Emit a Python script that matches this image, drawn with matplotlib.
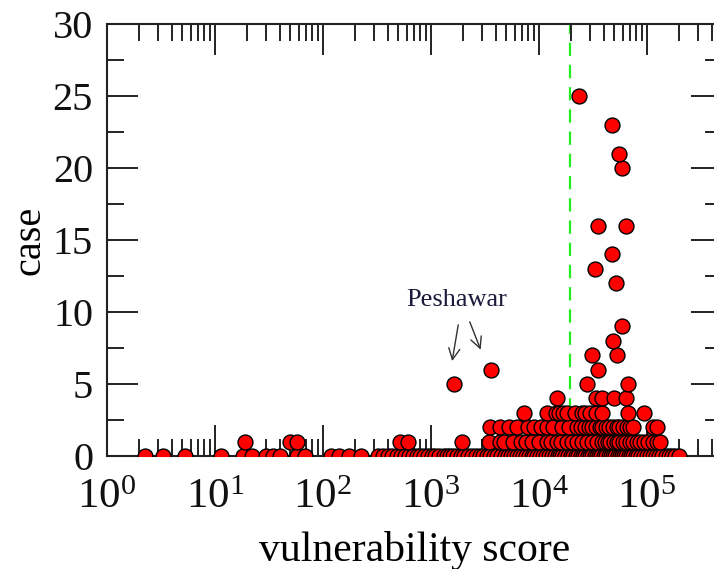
import numpy as np
import matplotlib
matplotlib.use("Agg")
import matplotlib.pyplot as plt
from matplotlib.ticker import LogLocator, MultipleLocator, NullFormatter

plt.rcParams['font.family'] = ['Liberation Serif', 'DejaVu Serif']
plt.rcParams['mathtext.fontset'] = 'custom'
plt.rcParams['mathtext.rm'] = 'Liberation Serif'
plt.rcParams['mathtext.it'] = 'Liberation Serif:italic'

# vulnerability scores grouped by number of cases
scores_case0 = [2.25, 3.3, 5.3, 11.4, 18.2, 22, 30, 34.4, 40, 57.4, 68, 119, 141, 174,
                225, 322, 360, 400, 440, 484, 530, 575, 630, 680, 740, 800, 870, 950,
                1030, 1100, 1200, 1330, 1420, 1500, 1620, 1750, 1900, 2050, 2200, 2400,
                2600, 2850, 3050, 3300, 3550, 3850, 4150, 4500, 4850, 5200, 5550, 5900,
                6300, 6700, 7100, 7600, 8100, 8600, 9100, 9700, 10300, 11000, 11700,
                12500, 13300, 14200, 15000, 15800, 16600, 17500, 18600, 19800, 20800,
                22000, 23200, 24500, 25700, 27000, 28500, 30000, 31500, 33000, 34700,
                36500, 38200, 40000, 42200, 44500, 46700, 49000, 51500, 54000, 56500,
                59000, 62000, 65000, 68500, 72000, 75500, 79000, 83500, 88000, 94000,
                100000, 107000, 115000, 122000, 130000, 140000, 150000, 160000, 172000,
                185000, 198000]
scores_case1 = [19, 50, 58, 516, 612, 1940, 3500, 4350, 4800, 5750, 6800, 7600, 8720,
                10000, 11860, 13000, 14680, 16000, 18500, 20500, 22700, 25000, 27800,
                31250, 34500, 38700, 41000, 43500, 46000, 49500, 52700, 56000, 60000,
                64000, 69600, 75000, 80800, 86100, 95000, 104000, 113700, 125000, 131800]
scores_case2 = [3520, 4400, 5300, 6250, 7910, 9000, 10500, 11860, 13500, 16340, 19000,
                22700, 24500, 26700, 29000, 31250, 34000, 36700, 38700, 42000, 45000,
                48400, 52700, 56000, 60000, 66000, 70000, 74200, 113700, 125000]
scores_case3 = [7260, 11860, 14360, 15500, 16700, 18400, 21500, 25000, 26700, 29650,
                33700, 38700, 67400, 94800]
scores_case4 = [14680, 33700, 39000, 49500, 64000]

# isolated high-case districts
high_scores = [1630, 3600, 27800, 68000, 35200, 31000, 53000, 48400, 58700, 51600, 33000,
               47400, 35200, 65000, 58700, 55000, 47400, 23500]
high_cases = [5, 6, 5, 5, 6, 7, 7, 8, 9, 12, 13, 14, 16, 16, 20, 21, 23, 25]

threshold = 19600

xs, ys = [], []
for c, group in enumerate([scores_case0, scores_case1, scores_case2, scores_case3, scores_case4]):
    xs += group
    ys += [c] * len(group)
xs += high_scores
ys += high_cases

fig = plt.figure(figsize=(7.14, 5.69), dpi=100)
ax = fig.add_axes([107 / 714, 113 / 569, 615 / 714, 432 / 569])

ax.axvline(threshold, color='#22ee22', lw=1.6, dashes=(6, 4), zorder=1)
ax.scatter(xs, ys, s=115, c='#ff0000', edgecolors='black', linewidths=1.0, zorder=3)

ax.set_xscale('log')
ax.set_xlim(1, 5e5)
ax.set_ylim(0, 30)
ax.xaxis.set_major_locator(LogLocator(base=10, numticks=10))
ax.xaxis.set_minor_locator(LogLocator(base=10, subs=np.arange(2, 10), numticks=20))
ax.xaxis.set_minor_formatter(NullFormatter())
ax.yaxis.set_major_locator(MultipleLocator(5))
ax.yaxis.set_minor_locator(MultipleLocator(2.5))

for s in ax.spines.values():
    s.set_linewidth(1.5)
    s.set_color('#222222')
ax.tick_params(which='both', direction='in', top=True, right=True, width=1.4,
               color='#222222', labelsize=29, labelcolor='#111111')
ax.tick_params(which='major', length=22)
ax.tick_params(which='minor', length=12)
ax.tick_params(axis='y', pad=10)
ax.tick_params(axis='x', pad=16, labelsize=31)

ax.set_xlabel('vulnerability score', fontsize=30, labelpad=10)
ax.set_ylabel('case', fontsize=29, labelpad=3)

ax.text(1741, 10.8, 'Peshawar', fontsize=19, ha='center', va='center', color='#1a1a3a')
ax.annotate('', xy=(1564, 6.4), xytext=(1816, 9.3),
            arrowprops=dict(arrowstyle='->', lw=1.0, color='#333333', mutation_scale=20))
ax.annotate('', xy=(2966, 7.2), xytext=(2249, 9.5),
            arrowprops=dict(arrowstyle='->', lw=1.0, color='#333333', mutation_scale=20))

fig.savefig('out.png', dpi=100)
